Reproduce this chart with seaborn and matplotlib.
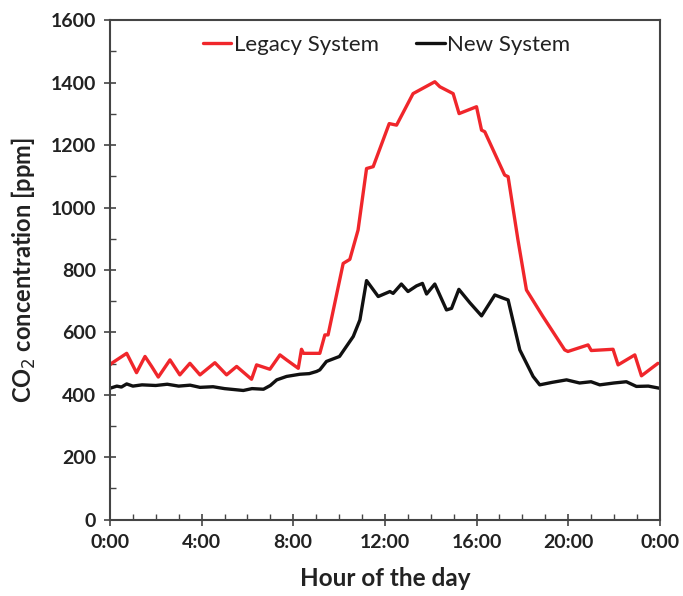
import matplotlib
matplotlib.use("Agg")
import matplotlib.pyplot as plt
import seaborn as sns
import pandas as pd
from matplotlib.ticker import MultipleLocator, FixedLocator

legacy_hours = [0.0, 0.07, 0.73, 1.16, 1.53, 1.82, 2.11, 2.62, 3.05, 3.49, 3.93, 4.58, 5.09, 5.53,
                6.18, 6.40, 6.98, 7.42, 7.71, 8.22, 8.36, 8.45, 9.16, 9.38, 9.52, 10.18, 10.47,
                10.83, 11.20, 11.49, 12.19, 12.51, 13.23, 14.18, 14.40, 14.98, 15.24, 16.00,
                16.22, 16.36, 17.23, 17.38, 17.81, 18.18, 18.90, 19.85, 19.99, 20.87, 21.01,
                21.96, 22.18, 22.91, 23.20, 23.92]
legacy_ppm = [496, 501, 533, 471, 523, 491, 457, 512, 464, 501, 464, 503, 464, 491,
              450, 496, 482, 528, 512, 485, 546, 533, 533, 592, 592, 821, 834,
              928, 1125, 1131, 1269, 1264, 1365, 1403, 1387, 1365, 1301, 1323,
              1248, 1243, 1104, 1099, 896, 736, 651, 544, 539, 560, 542,
              546, 496, 528, 461, 501]

new_hours = [0.0, 0.3, 0.5, 0.73, 1.0, 1.4, 2.0, 2.5, 3.0, 3.5, 3.93, 4.5, 5.0, 5.82, 6.2, 6.7,
             7.0, 7.28, 7.71, 8.29, 8.7, 9.02, 9.16, 9.45, 10.02, 10.62, 10.91, 11.20, 11.71,
             12.22, 12.36, 12.72, 13.01, 13.38, 13.64, 13.82, 14.18, 14.69, 14.91, 15.23,
             15.71, 16.22, 16.80, 17.19, 17.38, 17.89, 18.47, 18.76, 19.3, 19.93, 20.5,
             21.0, 21.38, 22.0, 22.54, 22.98, 23.5, 24.0]
new_ppm = [421, 428, 425, 435, 428, 432, 430, 434, 428, 431, 424, 426, 420, 414, 420, 418,
           430, 448, 459, 466, 468, 475, 480, 507, 523, 587, 640, 766, 715,
           731, 725, 755, 731, 749, 757, 723, 755, 672, 677, 738,
           695, 653, 720, 709, 704, 544, 459, 432, 440, 448, 438,
           442, 432, 438, 442, 427, 428, 421]

x_tick_labels = ["0:00", "4:00", "8:00", "12:00", "16:00", "20:00", "0:00"]

df = pd.concat([
    pd.DataFrame({"hour": legacy_hours, "ppm": legacy_ppm, "series": "Legacy System"}),
    pd.DataFrame({"hour": new_hours, "ppm": new_ppm, "series": "New System"}),
])

sns.set_style("white")
plt.rcParams["font.family"] = ["Lato", "DejaVu Sans"]

fig = plt.figure(figsize=(6.83, 5.96), dpi=100)
ax = fig.add_axes([0.161, 0.128, 0.805, 0.838])

sns.lineplot(data=df, x="hour", y="ppm", hue="series", sort=True,
             palette={"Legacy System": "#f0262b", "New System": "#111111"},
             linewidth=2.4, ax=ax, estimator=None)

ax.set_xlim(0, 24)
ax.set_ylim(0, 1600)
ax.xaxis.set_major_locator(FixedLocator([0, 4, 8, 12, 16, 20, 24]))
ax.set_xticklabels(x_tick_labels)
ax.xaxis.set_minor_locator(MultipleLocator(1))
ax.yaxis.set_major_locator(MultipleLocator(200))
ax.yaxis.set_minor_locator(MultipleLocator(100))

for lab in ax.get_xticklabels() + ax.get_yticklabels():
    lab.set_fontweight("bold")
    lab.set_fontsize(14)
    lab.set_color("#222222")

ax.tick_params(which="major", direction="inout", length=8, width=1.2, color="#444444", pad=6)
ax.tick_params(which="minor", direction="in", length=4, width=1.0, color="#444444")
ax.tick_params(axis="y", which="both", left=True, right=False)
ax.tick_params(axis="x", which="both", bottom=True, top=False)

for s in ax.spines.values():
    s.set_visible(True)
    s.set_linewidth(1.5)
    s.set_color("#444444")

ax.set_xlabel("Hour of the day", fontsize=17.5, fontweight="bold", color="#222222", labelpad=12)
ax.set_ylabel("CO$_2$ concentration [ppm]", fontsize=17, fontweight="bold", color="#222222", labelpad=9)

leg = ax.legend(loc="upper center", bbox_to_anchor=(0.503, 1.01), ncol=2, frameon=False,
                handlelength=1.27, handletextpad=0.1, columnspacing=1.7, fontsize=16)
for t in leg.get_texts():
    t.set_color("#222222")
ax.grid(False)

fig.savefig("out.png", dpi=100)
